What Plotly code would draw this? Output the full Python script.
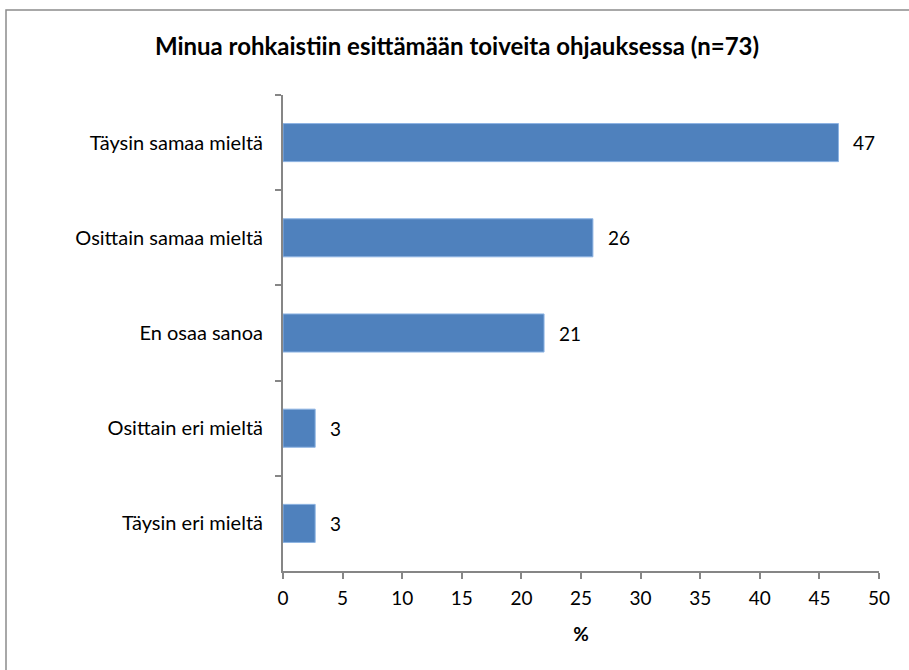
import plotly.graph_objects as go

categories = ["Täysin samaa mieltä", "Osittain samaa mieltä", "En osaa sanoa",
              "Osittain eri mieltä", "Täysin eri mieltä"]
values = [46.6, 26.0, 21.9, 2.7, 2.7]
labels = ["47", "26", "21", "3", "3"]
title = "Minua rohkaistiin esittämään toiveita ohjauksessa (n=73)"
x_ticks = [0, 5, 10, 15, 20, 25, 30, 35, 40, 45, 50]

FONT = "Lato"
FS = 20
BAR = "#4F81BD"
AX = "#868686"

fig = go.Figure()
fig.add_trace(go.Bar(
    y=categories, x=values, orientation="h",
    marker=dict(color=BAR, line=dict(color="#8EB4E3", width=1)),
    width=0.4, hoverinfo="skip",
))
for c, v, t in zip(categories, values, labels):
    fig.add_annotation(x=v, y=c, text=t, xanchor="left", showarrow=False,
                       xshift=13, font=dict(family=FONT, size=FS - 1, color="#000"))

W, H = 909, 670
ml, mr, mt, mb = 283, 30, 95, 99
pw, ph = W - ml - mr, H - mt - mb
fig.add_shape(type="rect", xref="paper", yref="paper",
              x0=(6 - ml) / pw, x1=(W + 20 - ml) / pw,
              y0=-(H + 20 - (H - mb)) / ph, y1=(H - mb - 10) / ph,
              line=dict(color="#8c8c8c", width=1.5), layer="below")

fig.update_layout(
    width=W, height=H, margin=dict(l=ml, r=mr, t=mt, b=mb),
    paper_bgcolor="white", plot_bgcolor="white", showlegend=False,
    title=dict(text="<b>" + title + "</b>", x=457 / W, xref="container", xanchor="center",
               y=1 - 47 / H, yanchor="middle",
               font=dict(family=FONT, size=24, color="#000")),
    font=dict(family=FONT, size=FS, color="#000"),
)
fig.update_xaxes(range=[0, 50], tickvals=x_ticks, showgrid=False, zeroline=False,
                 showline=True, linecolor=AX, linewidth=2, ticks="outside",
                 tickcolor=AX, ticklen=6, tickwidth=2, ticklabelstandoff=3,
                 tickfont=dict(family=FONT, size=FS - 1),
                 title=dict(text="<b>%</b>", font=dict(family=FONT, size=FS - 1), standoff=20))
fig.update_yaxes(autorange="reversed", showgrid=False, zeroline=False,
                 showline=True, linecolor=AX, linewidth=2, ticks="outside",
                 tickcolor=AX, ticklen=6, tickwidth=2, tickson="boundaries",
                 ticklabelstandoff=14, tickfont=dict(family=FONT, size=FS))

fig.write_html("out.html")
